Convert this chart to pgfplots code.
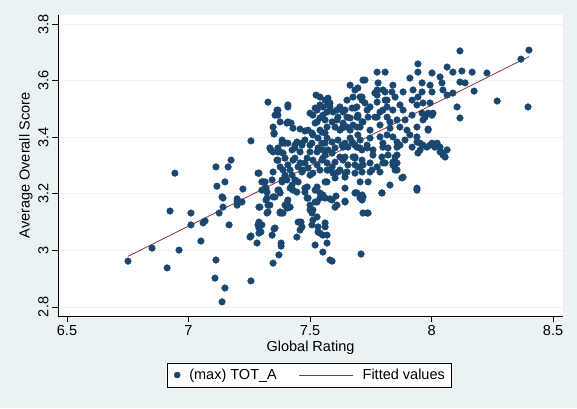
\documentclass[border=0pt]{standalone}
\usepackage{fontspec}
\setmainfont{Liberation Sans}
\usepackage{pgfplots}
\usepackage{pgfplotstable}
\pgfplotsset{compat=1.18}
\definecolor{bgc}{RGB}{234,242,243}
\definecolor{gridc}{RGB}{234,242,243}
\definecolor{navyc}{RGB}{26,71,111}
\definecolor{maroonc}{RGB}{144,53,59}
\newcommand{\fs}{\fontsize{14.5}{17}\selectfont}

\pgfplotstableread{
x y
6.751 2.962
6.850 3.008
6.912 2.938
6.924 3.139
6.961 3.001
7.010 3.132
7.010 3.090
7.051 3.033
7.060 3.097
7.068 3.104
7.113 2.966
7.109 2.902
7.150 2.867
7.138 2.818
7.126 3.132
7.142 3.153
7.142 3.185
7.167 3.090
7.200 3.174
7.220 3.171
7.200 3.160
7.257 3.051
7.257 2.892
7.282 3.026
7.290 3.153
7.290 3.100
7.302 3.090
7.290 3.079
7.298 3.065
7.290 3.061
7.323 3.132
7.319 3.178
7.348 3.189
7.335 3.160
7.344 3.054
7.352 3.076
7.348 2.955
7.372 2.984
7.381 3.026
7.381 3.015
7.385 3.132
7.397 3.160
7.405 3.150
6.944 3.273
7.113 3.295
7.117 3.227
7.150 3.242
7.163 3.295
7.175 3.319
7.138 3.189
7.200 3.182
7.224 3.217
7.257 3.387
7.290 3.273
7.307 3.242
7.319 3.220
7.323 3.206
7.327 3.524
7.344 3.249
7.339 3.355
7.348 3.348
7.368 3.348
7.389 3.344
7.348 3.436
7.356 3.478
7.368 3.496
7.352 3.411
7.377 3.454
7.409 3.507
7.405 3.450
7.385 3.390
7.397 3.379
7.364 3.319
7.377 3.295
7.389 3.284
7.372 3.213
7.385 3.242
7.405 3.249
7.302 3.213
7.315 3.242
7.294 3.153
7.286 3.090
7.253 3.047
7.446 3.047
7.377 3.203
7.356 3.189
7.389 3.132
7.405 3.167
7.418 3.153
7.409 3.178
7.430 3.213
7.446 3.206
7.451 3.242
7.426 3.231
7.459 3.100
7.467 3.083
7.459 3.072
7.508 3.090
7.512 3.143
7.508 3.132
7.500 3.160
7.529 3.118
7.488 3.185
7.521 3.171
7.541 3.185
7.541 3.203
7.553 3.196
7.488 3.224
7.529 3.224
7.570 3.242
7.562 3.097
7.562 3.083
7.570 3.054
7.541 3.061
7.553 3.054
7.570 3.026
7.553 2.994
7.521 3.019
7.582 2.966
7.463 3.100
7.591 2.962
7.710 2.987
7.533 3.065
7.739 3.132
7.644 3.171
7.611 3.160
7.582 3.182
7.706 3.185
7.714 3.189
7.693 3.203
7.796 3.203
7.940 3.213
7.377 3.132
7.479 3.206
7.364 3.496
7.368 3.478
7.409 3.514
7.409 3.454
7.422 3.450
7.352 3.415
7.430 3.432
7.459 3.429
7.479 3.422
7.389 3.383
7.335 3.362
7.368 3.362
7.525 3.549
7.500 3.485
7.521 3.503
7.541 3.514
7.562 3.531
7.574 3.538
7.582 3.521
7.553 3.478
7.541 3.468
7.529 3.454
7.611 3.496
7.615 3.471
7.636 3.489
7.652 3.531
7.673 3.503
7.665 3.584
7.685 3.567
7.714 3.542
7.718 3.602
7.492 3.425
7.512 3.408
7.533 3.397
7.549 3.418
7.570 3.436
7.591 3.454
7.603 3.436
7.632 3.432
7.652 3.436
7.677 3.443
7.697 3.471
7.714 3.454
7.446 3.383
7.467 3.372
7.438 3.362
7.479 3.390
7.549 3.379
7.591 3.383
7.615 3.390
7.644 3.379
7.673 3.383
7.603 3.362
7.697 3.408
7.944 3.659
7.944 3.630
8.064 3.648
8.002 3.627
8.035 3.613
8.043 3.592
7.776 3.630
7.809 3.630
7.780 3.592
7.726 3.602
7.697 3.574
7.841 3.584
7.911 3.609
7.961 3.592
7.994 3.584
7.961 3.560
8.002 3.560
8.047 3.567
7.883 3.560
7.924 3.567
7.944 3.542
7.920 3.531
7.940 3.514
7.965 3.521
7.994 3.521
7.986 3.485
8.064 3.549
7.767 3.556
7.809 3.560
7.776 3.524
7.817 3.531
7.850 3.542
7.870 3.514
7.883 3.496
7.841 3.496
7.800 3.496
7.677 3.542
7.706 3.542
7.644 3.496
7.685 3.503
7.726 3.521
7.735 3.496
7.665 3.468
7.697 3.478
7.739 3.471
7.776 3.471
7.817 3.471
7.788 3.443
7.829 3.454
7.858 3.461
7.891 3.461
7.920 3.478
7.961 3.485
7.636 3.436
7.665 3.425
7.706 3.436
7.747 3.425
7.829 3.432
7.870 3.436
7.899 3.425
7.940 3.436
7.965 3.461
8.002 3.478
7.665 3.397
7.706 3.390
7.747 3.397
7.788 3.401
7.817 3.408
7.841 3.401
7.891 3.390
7.911 3.408
7.986 3.425
7.940 3.383
7.870 3.372
7.920 3.365
7.965 3.372
7.994 3.372
8.023 3.379
8.035 3.365
8.064 3.355
7.636 3.365
7.693 3.365
7.735 3.362
7.800 3.365
7.385 3.379
7.377 3.348
7.409 3.379
7.438 3.372
7.467 3.379
7.426 3.355
7.459 3.348
7.500 3.372
7.533 3.362
7.562 3.379
7.574 3.355
7.632 3.372
7.656 3.365
7.685 3.372
7.714 3.355
7.368 3.319
7.397 3.326
7.409 3.302
7.430 3.319
7.451 3.295
7.479 3.309
7.492 3.291
7.512 3.319
7.529 3.302
7.553 3.326
7.570 3.309
7.591 3.295
7.603 3.312
7.636 3.319
7.656 3.302
7.685 3.326
7.714 3.319
7.697 3.295
7.286 3.273
7.348 3.277
7.426 3.266
7.467 3.277
7.512 3.273
7.570 3.284
7.595 3.273
7.615 3.277
7.644 3.273
7.685 3.273
7.714 3.277
7.302 3.242
7.385 3.249
7.562 3.242
7.603 3.256
7.315 3.220
7.368 3.213
7.418 3.220
7.479 3.220
7.521 3.213
7.644 3.220
7.323 3.185
7.492 3.185
7.529 3.171
7.562 3.185
7.591 3.178
7.685 3.203
7.714 3.196
7.327 3.160
7.377 3.136
7.409 3.150
7.500 3.143
7.603 3.153
7.327 3.136
7.356 3.079
7.451 3.100
7.512 3.107
7.533 3.083
7.718 3.132
7.677 3.379
7.706 3.362
7.735 3.372
7.759 3.355
7.800 3.379
7.821 3.362
7.858 3.365
7.953 3.379
7.981 3.365
8.006 3.372
8.035 3.348
8.047 3.337
7.944 3.344
7.644 3.330
7.685 3.330
7.759 3.337
7.796 3.330
7.821 3.337
7.850 3.330
7.685 3.302
7.706 3.295
7.747 3.309
7.776 3.295
7.809 3.309
7.841 3.302
7.623 3.284
7.652 3.277
7.644 3.259
7.755 3.284
7.788 3.277
7.850 3.284
7.878 3.256
7.706 3.242
7.739 3.242
7.829 3.231
7.689 3.203
7.718 3.189
7.714 3.178
7.796 3.203
7.644 3.174
7.735 3.132
7.574 3.284
7.747 3.277
7.850 3.291
7.841 3.312
7.800 3.309
7.858 3.337
7.718 3.302
7.677 3.330
7.623 3.330
7.591 3.344
7.562 3.337
7.883 3.259
7.607 3.192
7.541 3.542
7.574 3.514
7.553 3.507
7.529 3.496
7.570 3.489
7.512 3.478
7.521 3.450
7.508 3.415
7.541 3.425
7.562 3.415
7.570 3.397
7.508 3.379
7.553 3.355
7.529 3.348
7.500 3.348
7.488 3.326
7.549 3.319
7.471 3.284
7.500 3.266
7.541 3.284
7.438 3.326
7.459 3.309
7.418 3.284
7.438 3.249
7.397 3.266
7.582 3.507
7.595 3.489
7.562 3.461
7.611 3.461
7.636 3.450
7.652 3.471
7.623 3.425
7.693 3.436
7.718 3.454
7.693 3.471
7.693 3.507
7.714 3.531
7.623 3.507
7.747 3.507
7.767 3.471
7.788 3.489
7.817 3.507
7.809 3.531
7.776 3.549
7.776 3.567
7.800 3.567
7.837 3.560
8.117 3.705
8.401 3.708
8.368 3.676
8.397 3.507
8.270 3.528
8.228 3.627
8.175 3.563
8.167 3.630
8.125 3.634
8.088 3.630
8.117 3.595
8.138 3.592
8.088 3.556
8.105 3.507
8.117 3.468
7.986 3.429
8.006 3.485
7.973 3.471
7.940 3.401
7.953 3.355
8.002 3.379
8.014 3.365
8.047 3.344
8.056 3.330
7.940 3.220
7.858 3.284
7.858 3.309
7.858 3.383
}\scatterdata

\begin{document}
\begin{tikzpicture}[x=1pt,y=1pt]
\fill[bgc] (0,0) rectangle (577,408);
\fill[white] (58,92) rectangle (563,393);
\begin{axis}[
  at={(58pt,92pt)}, anchor=south west,
  scale only axis, width=505pt, height=301pt,
  xmin=6.463, xmax=8.541, ymin=2.768, ymax=3.832,
  axis x line*=bottom, axis y line*=left,
  axis line style={-, black, line width=0.8pt},
  xtick={6.5,7,7.5,8,8.5}, ytick={2.8,3,3.2,3.4,3.6,3.8},
  tick align=outside, major tick length=6pt,
  tick style={black, line width=0.8pt},
  ymajorgrids, major grid style={gridc, line width=0.8pt},
  /pgf/number format/assume math mode=true,
  tick label style={font=\fs},
  yticklabel style={rotate=90, anchor=south},
  label style={font=\fs},
  xlabel={Global Rating}, ylabel={Average Overall Score},
  xlabel style={at={(axis description cs:0.5,-0.1186)}, anchor=base},
  ylabel style={at={(axis description cs:-0.0564,0.5)}, anchor=base},
  legend style={at={(0.498,-0.196)}, anchor=center, legend columns=2,
    draw=black, line width=0.8pt, fill=white, font=\fs,
    inner xsep=7pt, inner ysep=6pt, nodes={inner sep=0pt},
    /tikz/every odd column/.style={column sep=9pt},
    /tikz/every even column/.style={column sep=22pt}},
  legend cell align=left,
]
\addplot[only marks, mark=*, mark size=3.35pt,
  mark options={fill=navyc, draw=navyc, line width=0.3pt},
  legend image code/.code={\draw[mark=*, mark size=3.1pt, navyc, fill=navyc, line width=0.3pt] plot coordinates {(0pt,0pt)};}]
  table[x=x, y=y] {\scatterdata};
\addlegendentry{(max) TOT\_A}
\addplot[maroonc, line width=0.8pt, no marks,
  legend image code/.code={\draw[maroonc, line width=0.8pt] (0pt,0pt) -- (54pt,0pt);}]
  coordinates {(6.751,2.979) (8.401,3.685)};
\addlegendentry{Fitted values}
\end{axis}
\pgfresetboundingbox
\path (0,0) rectangle (577,408);
\end{tikzpicture}
\end{document}
